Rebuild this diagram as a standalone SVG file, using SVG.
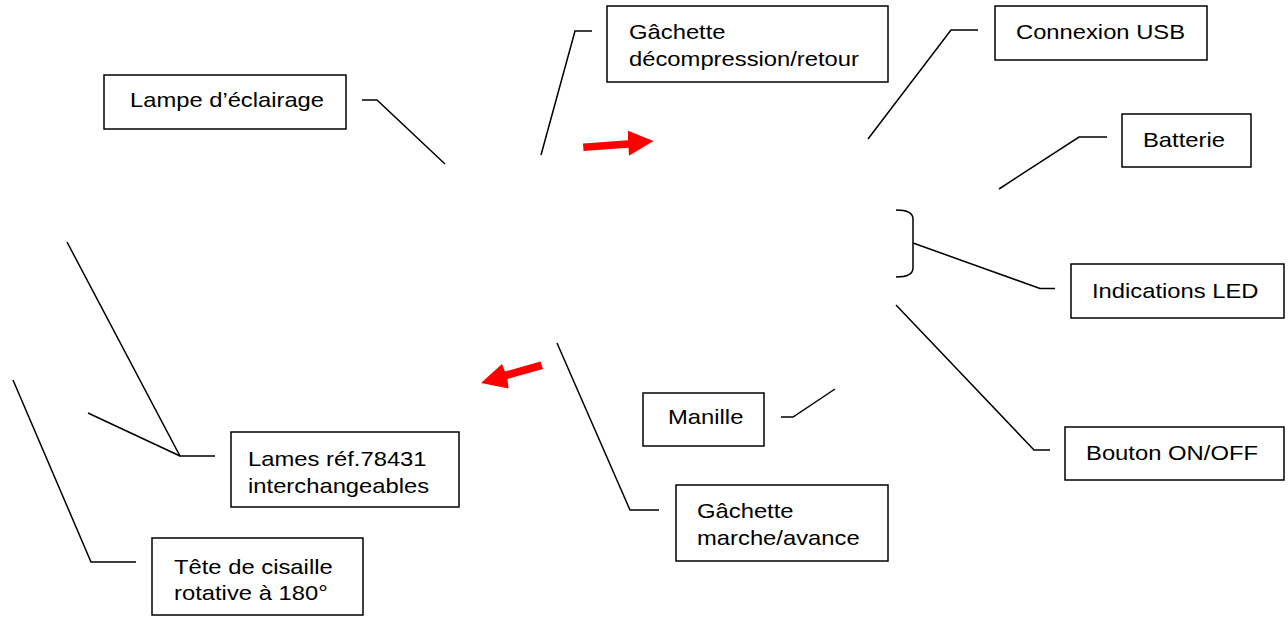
<svg xmlns="http://www.w3.org/2000/svg" width="1288" height="619" viewBox="0 0 1288 619">
<style>
.box{fill:#fff;stroke:#000;stroke-width:1.5}
.t{font-family:"Liberation Sans",Arial,sans-serif;font-size:21px;fill:#000}
.ln{fill:none;stroke:#000;stroke-width:1.5}
.arr{fill:#ff0000}
</style>
<rect width="1288" height="619" fill="#fff"/>
<g id="connectors">
<polyline class="ln" points="362,100 377,100 445,164"/>
<polyline class="ln" points="592,31 575,31 541,155"/>
<polyline class="ln" points="978,30 951,30 868,139"/>
<polyline class="ln" points="1107,137 1079,137 999,189"/>
<path class="ln" d="M896,210 Q913,210 913,219 L913,268 Q913,277 896,277"/>
<polyline class="ln" points="913,243 1040,288.5 1055,288.5"/>
<polyline class="ln" points="896,305 1034,450 1050,450"/>
<polyline class="ln" points="781,417 793,417 835,389"/>
<polyline class="ln" points="557,343 630,510 659,510"/>
<polyline class="ln" points="67,242 180,456 215,456"/>
<line class="ln" x1="88" y1="413" x2="180" y2="456"/>
<polyline class="ln" points="13,380 91,562 136,562"/>
<polygon class="arr" points="583,143.5 628,140.3 628,130.7 653.5,141 629,155.7 628.5,147.7 583.5,151"/>
<polygon class="arr" points="481,383 502,364 505,371.5 540.5,361.5 543,369 507.5,379 508.5,388.5"/>
</g>
<g id="lampe">
<rect class="box" x="104" y="75" width="242" height="54"/>
<text class="t" x="130" y="107" textLength="194" lengthAdjust="spacingAndGlyphs">Lampe d’éclairage</text>
</g>
<g id="gachette-decompression">
<rect class="box" x="607" y="6" width="281" height="76"/>
<text class="t" x="629" y="39" textLength="96.6" lengthAdjust="spacingAndGlyphs">Gâchette</text>
<text class="t" x="629" y="66" textLength="230" lengthAdjust="spacingAndGlyphs">décompression/retour</text>
</g>
<g id="usb">
<rect class="box" x="995" y="6" width="212" height="54"/>
<text class="t" x="1016" y="39" textLength="169" lengthAdjust="spacingAndGlyphs">Connexion USB</text>
</g>
<g id="batterie">
<rect class="box" x="1122" y="114" width="129" height="53"/>
<text class="t" x="1143" y="146.5" textLength="82" lengthAdjust="spacingAndGlyphs">Batterie</text>
</g>
<g id="led">
<rect class="box" x="1071" y="264" width="213" height="54"/>
<text class="t" x="1092" y="298" textLength="166.5" lengthAdjust="spacingAndGlyphs">Indications LED</text>
</g>
<g id="bouton">
<rect class="box" x="1065" y="427" width="219" height="53"/>
<text class="t" x="1086" y="460" textLength="172" lengthAdjust="spacingAndGlyphs">Bouton ON/OFF</text>
</g>
<g id="manille">
<rect class="box" x="643" y="393" width="121" height="53"/>
<text class="t" x="668" y="424" textLength="75.4" lengthAdjust="spacingAndGlyphs">Manille</text>
</g>
<g id="gachette-marche">
<rect class="box" x="676" y="485" width="212" height="76"/>
<text class="t" x="697" y="518" textLength="96.6" lengthAdjust="spacingAndGlyphs">Gâchette</text>
<text class="t" x="697" y="545" textLength="162.7" lengthAdjust="spacingAndGlyphs">marche/avance</text>
</g>
<g id="lames">
<rect class="box" x="231" y="432" width="228" height="75"/>
<text class="t" x="248" y="466" textLength="178.6" lengthAdjust="spacingAndGlyphs">Lames réf.78431</text>
<text class="t" x="248" y="493" textLength="181.2" lengthAdjust="spacingAndGlyphs">interchangeables</text>
</g>
<g id="tete">
<rect class="box" x="152" y="538" width="211" height="77"/>
<text class="t" x="174" y="574" textLength="158.7" lengthAdjust="spacingAndGlyphs">Tête de cisaille</text>
<text class="t" x="174" y="600" textLength="153.7" lengthAdjust="spacingAndGlyphs">rotative à 180°</text>
</g>
</svg>
